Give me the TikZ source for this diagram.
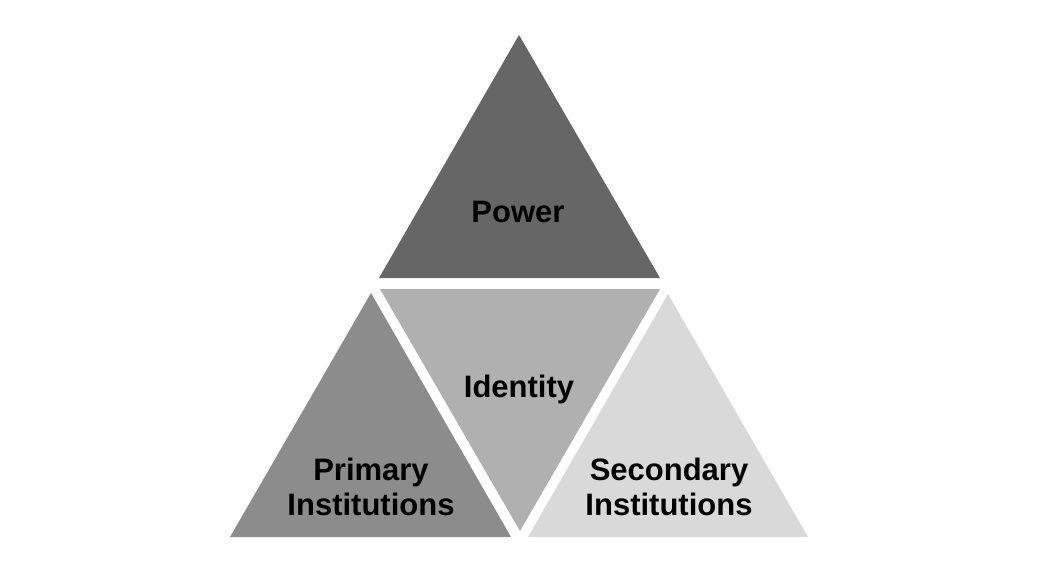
\documentclass[tikz,border=0pt]{standalone}
\usepackage{fontspec}
\setmainfont{Liberation Sans}
\usetikzlibrary{calc}
\definecolor{powergray}{HTML}{666666}
\definecolor{identgray}{HTML}{B0B0B0}
\definecolor{primgray}{HTML}{8C8C8C}
\definecolor{secgray}{HTML}{D9D9D9}
\tikzset{lbl/.style={font=\bfseries\fontsize{31}{35}\selectfont,align=center,inner sep=0pt}}

\begin{document}
\begin{tikzpicture}[x=1pt,y=-1pt]
		\useasboundingbox (0,0) rectangle (1049,571);
		\fill[powergray] (519,35) -- (379,278) -- (660,278) -- cycle;
		\fill[identgray] (380,289) -- (660,289) -- (520,531) -- cycle;
		\fill[primgray] (371,293) -- (230,537) -- (511,537) -- cycle;
		\fill[secgray] (668,294) -- (528,537) -- (808,537) -- cycle;
		\node[lbl] (power) at (518,212) {Power};
		\node[lbl] (identity) at (519,389) {Identity};
		\node[lbl] (primary) at (371,487) {Primary\\Institutions};
		\node[lbl] (secondary) at (669,487) {Secondary\\Institutions};
		\end{tikzpicture}
\end{document}
